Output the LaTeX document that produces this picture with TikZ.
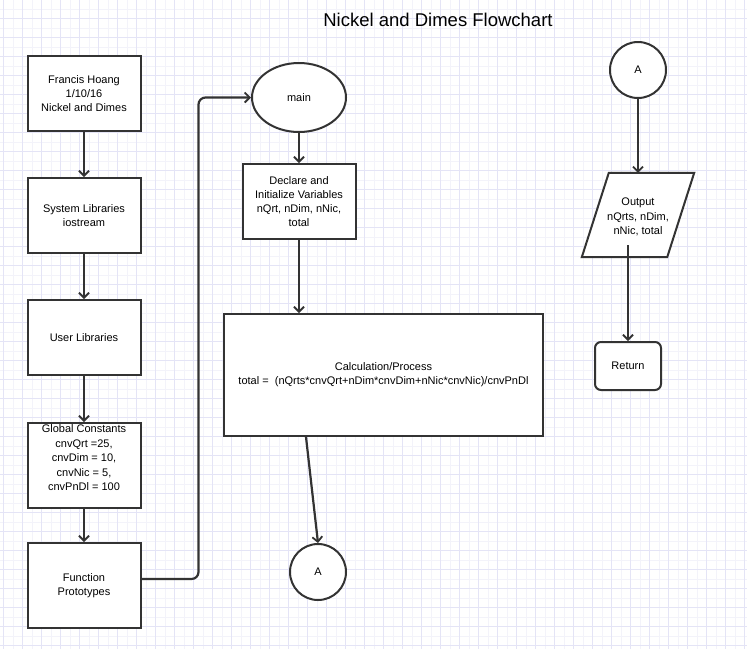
\documentclass[tikz,border=0pt]{standalone}
\usepackage{fontspec}
\setmainfont{Liberation Sans}
\usetikzlibrary{arrows.meta,shapes.geometric,calc}
\definecolor{gridmaj}{HTML}{E4E4F6}
\definecolor{gridmin}{HTML}{F3F3FA}
\definecolor{edge}{HTML}{333333}
\tikzset{
  box/.style={draw=edge,line width=2pt,fill=white,rectangle,align=center,inner sep=2pt,
    font=\fontsize{11}{14}\selectfont},
  arr/.style={draw=edge,line width=2.2pt,-{Straight Barb[length=5pt,width=10pt,line width=1.8pt]}},
  txt/.style={align=center,font=\fontsize{11}{14.5}\selectfont,inner sep=0pt},
}
\begin{document}
\begin{tikzpicture}[x=1pt,y=-1pt]
\fill[white] (0,0) rectangle (747,649);
\useasboundingbox (0,0) rectangle (747,649);
% grid
\foreach \i in {0,...,39} \draw[gridmin,line width=0.6pt] ({13.2+19*\i},0) -- ({13.2+19*\i},649);
\foreach \j in {0,...,34} \draw[gridmin,line width=0.6pt] (0,{8.8+19*\j}) -- (747,{8.8+19*\j});
\foreach \i in {0,...,39} \draw[gridmaj,line width=0.7pt] ({3.7+19*\i},0) -- ({3.7+19*\i},649);
\foreach \j in {0,...,34} \draw[gridmaj,line width=0.7pt] (0,{-0.7+19*\j}) -- (747,{-0.7+19*\j});

\node[font=\fontsize{18.5}{22}\selectfont,inner sep=0pt] (title) at (438,20) {Nickel and Dimes Flowchart};

% left column
\node[box,minimum width=113pt,minimum height=75pt] (b1) at (84,93.5) {Francis Hoang\\1/10/16\\Nickel and Dimes};
\node[box,minimum width=113pt,minimum height=75pt] (b2) at (84,215.5) {System Libraries\\iostream};
\node[box,minimum width=113pt,minimum height=75pt] (b3) at (84,337.5) {User Libraries};
\node[box,minimum width=113pt,minimum height=85pt,anchor=north,inner sep=1pt] (b4) at (84,422) {};
\node[txt,anchor=north] (b4t) at (84,424.5) {Global Constants\\cnvQrt =25,\\cnvDim = 10,\\cnvNic = 5,\\cnvPnDl = 100};
\node[box,minimum width=113pt,minimum height=85pt] (b5) at (84,585.5) {Function\\Prototypes};

\draw[arr] (b1.south) -- (b2.north);
\draw[arr] (b2.south) -- (b3.north);
\draw[arr] (b3.south) -- (b4.north);
\draw[arr] (b4.south) -- (b5.north);

% middle column
\node[box,ellipse,minimum width=94pt,minimum height=69pt,inner sep=0pt] (main) at (299,97.5) {main};
\node[box,minimum width=113pt,minimum height=75pt] (decl) at (299,201.5) {Declare and\\Initialize Variables\\nQrt, nDim, nNic,\\total};
\node[box,minimum width=319pt,minimum height=122pt] (calc) at (383.5,375) {Calculation/Process\\total = \ (nQrts*cnvQrt+nDim*cnvDim+nNic*cnvNic)/cnvPnDl};
\node[box,circle,minimum size=56pt,inner sep=0pt] (a1) at (318,572) {A};

\draw[arr,rounded corners=7pt] ([yshift=6.5pt]b5.east) -- ++(57,0) |- (main.west);
\draw[arr] (main.south) -- (main.south |- decl.north);
\draw[arr] (decl.south) -- (decl.south |- calc.north);
\draw[arr] ([xshift=-77.5pt]calc.south) -- (a1.north);

% right column
\node[box,circle,minimum size=56pt,inner sep=0pt] (a2) at (638,70) {A};
\node[txt,minimum width=85pt,minimum height=84pt] (out) at (638,215) {};
\draw[edge,line width=2pt,fill=white,line join=miter]
  ([xshift=13.5pt]out.north west) -- ([xshift=13.5pt]out.north east)
  -- ([xshift=-13.5pt]out.south east) -- ([xshift=-13.5pt]out.south west) -- cycle;
\node[txt] (outt) at (638,217) {Output\\nQrts, nDim,\\nNic, total};
\node[box,rounded corners=6pt,minimum width=66pt,minimum height=48pt] (ret) at (628,366) {Return};

\draw[arr] (a2.south) -- (out.north);
\draw[arr] ($(out.center)+(-10,30)$) -- (ret.north);
\end{tikzpicture}
\end{document}
